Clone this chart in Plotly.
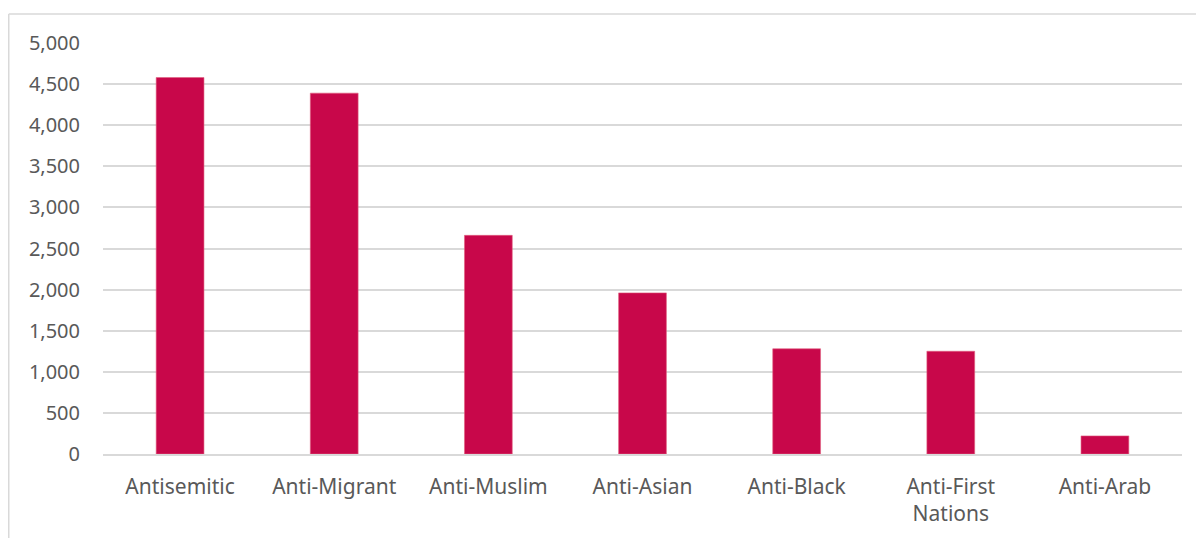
import plotly.graph_objects as go

categories = ["Antisemitic", "Anti-Migrant", "Anti-Muslim", "Anti-Asian",
              "Anti-Black", "Anti-First<br>Nations", "Anti-Arab"]
values = [4580, 4390, 2660, 1960, 1280, 1250, 220]
tick_vals = [0, 500, 1000, 1500, 2000, 2500, 3000, 3500, 4000, 4500, 5000]
tick_text = ["0", "500", "1,000", "1,500", "2,000", "2,500", "3,000",
             "3,500", "4,000", "4,500", "5,000"]

bar_color = "#C8074A"
text_color = "#595959"
grid_color = "#D9D9D9"

fig = go.Figure(go.Bar(
    x=categories, y=values,
    marker=dict(color=bar_color, line=dict(color="#E0607F", width=0.6)),
    width=0.31,
))

# page body has an 8px margin; size the figure to fit the window
OFF = 8
W, H = 1204 - OFF, 538 - OFF
ml, mr, mt, mb = 103 - OFF, W + OFF - 1182, 43 - OFF, H + OFF - 454

fig.update_layout(
    width=W, height=H,
    margin=dict(l=ml, r=mr, t=mt, b=mb),
    paper_bgcolor="white", plot_bgcolor="white",
    font=dict(family="Noto Sans", size=20, color=text_color),
    showlegend=False,
)
fig.update_yaxes(
    range=[0, 5000], tickvals=tick_vals, ticktext=tick_text,
    tickfont=dict(size=20),
    showgrid=True, gridcolor=grid_color, gridwidth=1.5,
    zeroline=False, showline=False, ticks="",
    ticklabelstandoff=22, fixedrange=True,
)
fig.update_xaxes(
    tickfont=dict(size=21),
    showgrid=False, showline=True, linecolor=grid_color, linewidth=1.5,
    ticks="", ticklabelstandoff=13, fixedrange=True,
)

pw = W - ml - mr
ph = H - mt - mb
x0 = (8 - OFF - ml + 0.75) / pw
y1 = (H - (14 - OFF) - mb) / ph
fig.add_shape(type="line", xref="paper", yref="paper",
              x0=x0, x1=(W + 5 - ml) / pw, y0=y1, y1=y1,
              line=dict(color=grid_color, width=1.5))
fig.add_shape(type="line", xref="paper", yref="paper",
              x0=x0, x1=x0, y0=y1, y1=-(mb + 5) / ph,
              line=dict(color=grid_color, width=1.5))

fig.write_html("out.html")
